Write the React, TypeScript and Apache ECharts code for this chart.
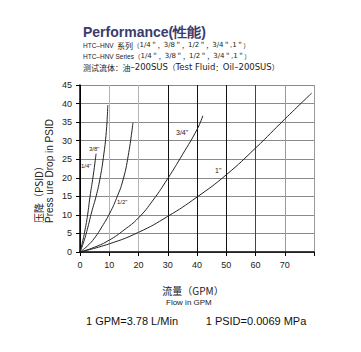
import React, { useEffect, useRef } from "react";
import * as echarts from "echarts";

const sizeNames = ["1/4\"", "3/8\"", "1/2\"", "3/4\"", "1\""];
const curve14: number[][] = [[0, 0], [0.8, 2.5], [1.7, 5.9], [2.6, 10], [3.4, 14.8], [4.5, 20.5], [5.5, 26.5]];
const curve38: number[][] = [[0, 0], [1.3, 2.8], [2.7, 6.7], [4, 10.8], [5.5, 15], [6.8, 19.6], [8, 25.5], [9, 32.5], [9.5, 39.6]];
const curve12: number[][] = [[0, 0], [2.5, 1.6], [5, 3.8], [7.5, 6.8], [10.2, 10.5], [12.5, 14.5], [14.7, 19.4], [16.5, 26], [18.1, 34.8]];
const curve34: number[][] = [[0, 0], [5, 1.3], [10, 3.2], [15, 5.9], [20, 9.2], [25, 14], [30, 19.8], [35, 26.2], [40, 33], [42, 36.7]];
const curve1: number[][] = [[0, 0], [10, 2.2], [20, 5.3], [30, 9.6], [40, 14.8], [50, 20.8], [60, 28], [70, 35.8], [79.2, 42.8]];
const xTicks = [0, 10, 20, 30, 40, 50, 60, 70, 80];
const yTicks = [0, 5, 10, 15, 20, 25, 30, 35, 40, 45];

const FONT = "'Liberation Sans', Arial, sans-serif";
const CJK = "'Noto Sans CJK SC', sans-serif";
const LAT = "'DejaVu Sans', sans-serif";

const rich = {
  h: { font: `6.5px ${FONT}`, fill: "#222" },
  c: { font: `8px ${CJK}`, fill: "#222" },
  p: { font: `6.5px ${CJK}`, fill: "#222" },
  n: { font: `7px ${LAT}`, fill: "#222" },
  l: { font: `8.5px ${LAT}`, fill: "#222" },
  q: { font: `7.5px ${CJK}`, fill: "#222" },
};
const sizeList = "{p|（}{n|1/4}{p|＂，}{n|3/8}{p|＂，}{n|1/2}{p|＂，}{n|3/4}{p|＂}{n|,1}{p|＂）}";

export default function App() {
  const ref = useRef<HTMLDivElement>(null);
  useEffect(() => {
    const chart = echarts.init(ref.current!, null, { renderer: "svg" });
    const curves = [curve14, curve38, curve12, curve34, curve1];
    chart.setOption({
      animation: false,
      backgroundColor: "#fff",
      grid: { left: 80, right: 47, top: 85, bottom: 100 },
      xAxis: {
        type: "value",
        min: xTicks[0],
        max: xTicks[xTicks.length - 1],
        interval: 10,
        axisLine: { show: true, onZero: false, lineStyle: { color: "#000", width: 1.5 } },
        axisTick: { show: true, length: 4, lineStyle: { color: "#000" } },
        axisLabel: {
          color: "#222", fontSize: 9, fontFamily: FONT, margin: 8,
          formatter: (v: number) => (v === 80 ? "" : String(v)),
        },
        splitLine: {
          show: true,
          lineStyle: { color: ["#000", "#b5b5b5", "#b5b5b5", "#111", "#111", "#111", "#444", "#999", "#999"], width: 1 },
        },
      },
      yAxis: {
        type: "value",
        min: yTicks[0],
        max: yTicks[yTicks.length - 1],
        interval: 5,
        axisLine: { show: true, onZero: false, lineStyle: { color: "#000", width: 1.5 } },
        axisTick: { show: true, length: 4, lineStyle: { color: "#000" } },
        axisLabel: { color: "#222", fontSize: 9, fontFamily: FONT, margin: 8 },
        splitLine: { show: true, lineStyle: { color: "#8a8a8a", width: 1 } },
      },
      series: curves.map((c, i) => ({
        name: sizeNames[i],
        type: "line",
        data: c,
        smooth: true,
        showSymbol: false,
        lineStyle: { color: "#222", width: 1 },
      })),
      graphic: [
        { type: "text", x: 83, y: 32, style: { text: "Performance(性能)", fill: "#3b3a6e", font: `bold 14px ${FONT}`, verticalAlign: "middle" } },
        { type: "text", x: 83, y: 45, style: { text: "{h|HTC–HNV} {c|系列}" + sizeList, rich, verticalAlign: "middle" } },
        { type: "text", x: 83, y: 56, style: { text: "{h|HTC–HNV Series}" + sizeList, rich, verticalAlign: "middle" } },
        { type: "text", x: 83, y: 67, style: { text: "{c|测试流体}{q|：}{c|油}{l|–200SUS}{q|（}{l|Test Fluid}{q|：}{l|Oil–200SUS}{q|）}", rich, verticalAlign: "middle" } },
        { type: "text", x: 89, y: 146, style: { text: "3/8\"", fill: "#222", font: `6px ${FONT}` } },
        { type: "text", x: 81, y: 163, style: { text: "1/4\"", fill: "#222", font: `6px ${FONT}` } },
        { type: "text", x: 117, y: 199, style: { text: "1/2\"", fill: "#222", font: `6px ${FONT}` } },
        { type: "text", x: 176, y: 129, style: { text: "3/4\"", fill: "#222", font: `7px ${FONT}` } },
        { type: "text", x: 215, y: 167, style: { text: "1\"", fill: "#222", font: `7px ${FONT}` } },
        {
          type: "text", x: 38, y: 223, rotation: Math.PI / 2,
          style: { text: "压降（PSID）", fill: "#222", font: `10px ${CJK}`, align: "left", verticalAlign: "middle" },
        },
        {
          type: "text", x: 49, y: 223, rotation: Math.PI / 2,
          style: { text: "Press ure Drop in PSID", fill: "#222", font: `10px ${FONT}`, align: "left", verticalAlign: "middle" },
        },
        { type: "text", x: 193, y: 290, style: { text: "流量（GPM）", fill: "#222", font: `10px ${CJK}`, align: "center", verticalAlign: "middle" } },
        { type: "text", x: 166, y: 302, style: { text: "Flow in GPM", fill: "#222", font: `8px ${FONT}`, align: "left", verticalAlign: "middle" } },
        { type: "text", x: 132, y: 321, style: { text: "1 GPM=3.78 L/Min", fill: "#111", font: `11px ${FONT}`, align: "center", verticalAlign: "middle" } },
        { type: "text", x: 256, y: 321, style: { text: "1 PSID=0.0069 MPa", fill: "#111", font: `11px ${FONT}`, align: "center", verticalAlign: "middle" } },
      ],
    });
    return () => chart.dispose();
  }, []);
  return <div ref={ref} style={{ width: 361, height: 352, position: "absolute", left: 0, top: 0 }} />;
}
